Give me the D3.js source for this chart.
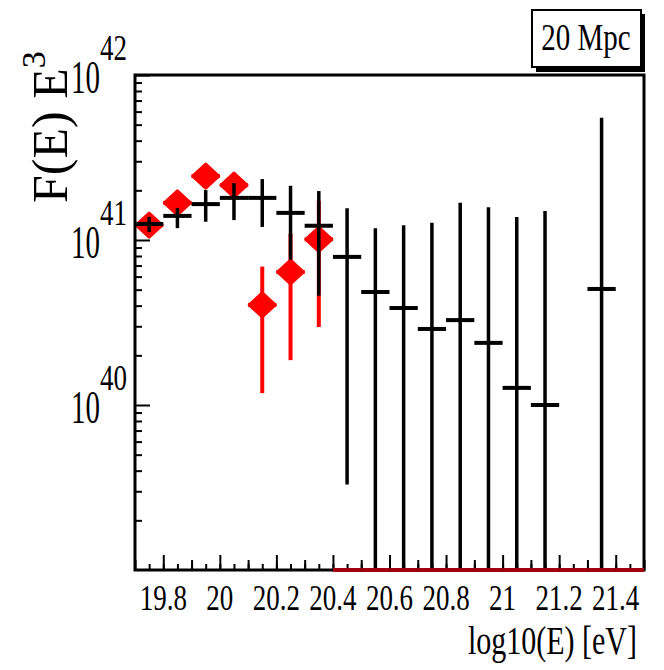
<!DOCTYPE html>
<html>
<head>
<meta charset="utf-8">
<script src="https://cdn.jsdelivr.net/npm/d3@7"></script>
<style>
  body { margin: 0; background: #fff; }
  svg { display: block; }
  text { font-family: "Liberation Serif", "DejaVu Serif", serif; fill: #000; }
</style>
</head>
<body>
<div id="graph"></div>
<script>
// bins in log10(E), width 0.1
const binCenters = [19.75, 19.85, 19.95, 20.05, 20.15, 20.25, 20.35, 20.45, 20.55,
                    20.65, 20.75, 20.85, 20.95, 21.05, 21.15, 21.25, 21.35, 21.45];

// black series (null = empty bin)
const blackValues = [1.25e41, 1.40e41, 1.65e41, 1.80e41, 1.80e41, 1.46e41, 1.22e41, 7.9e40, 4.84e40,
                     3.87e40, 2.89e40, 3.27e40, 2.38e40, 1.27e40, 1.0e40, null, 5.05e40, null];
const blackLow    = [1.12e41, 1.18e41, 1.29e41, 1.32e41, 1.20e41, 7.6e40, 4.6e40, 3.3e39, 0,
                     0, 0, 0, 0, 0, 0, null, 0, null];
const blackHigh   = [1.38e41, 1.56e41, 2.01e41, 2.21e41, 2.34e41, 2.13e41, 1.98e41, 1.56e41, 1.18e41,
                     1.23e41, 1.27e41, 1.68e41, 1.58e41, 1.38e41, 1.50e41, null, 5.5e41, null];

// red series (symmetric errors, zero beyond 20.4)
const redValues = [1.23e41, 1.68e41, 2.44e41, 2.15e41, 4.04e40, 6.4e40, 1.01e41, 0, 0,
                   0, 0, 0, 0, 0, 0, 0, 0, 0];
const redErrors = [1.2e40, 1.6e40, 2.4e40, 2.6e40, 2.86e40, 4.53e40, 7.13e40, 0, 0,
                   0, 0, 0, 0, 0, 0, 0, 0, 0];

const xTickValues = [19.8, 20, 20.2, 20.4, 20.6, 20.8, 21, 21.2, 21.4];
const xTickLabels = ["19.8", "20", "20.2", "20.4", "20.6", "20.8", "21", "21.2", "21.4"];
const yTickExponents = [40, 41, 42];

const binWidth = 0.1;
const margin = { top: 75, right: 20, bottom: 100, left: 135 };
const W = 664, H = 670;
const width = W - margin.left - margin.right;
const height = H - margin.top - margin.bottom;

const svg = d3.select("#graph").append("svg")
    .attr("width", W)
    .attr("height", H);

const x = d3.scaleLinear().domain([19.7, 21.5]).range([margin.left, margin.left + width]);
const y = d3.scaleLog().domain([1e39, 1e42]).range([margin.top + height, margin.top]);
const yc = v => y(Math.max(v, 1e39));

// stretched text helper (the source picture is squashed horizontally)
function label(g, txt, px, py, size, sy, anchor) {
    return g.append("text")
        .attr("transform", `translate(${px},${py}) scale(1,${sy})`)
        .attr("font-size", size)
        .attr("text-anchor", anchor)
        .text(txt);
}

// ticks (inside the frame)
const xMinor = d3.range(19.75, 21.5, 0.05).map(v => +v.toFixed(2));
const xMid = d3.range(19.7, 21.5, 0.2).map(v => +v.toFixed(2));
svg.append("g").attr("transform", `translate(0,${margin.top + height})`)
    .call(d3.axisTop(x).tickValues(xMinor).tickSize(6).tickFormat(""));
svg.append("g").attr("transform", `translate(0,${margin.top + height})`)
    .call(d3.axisTop(x).tickValues(xMid).tickSize(10).tickFormat(""));
svg.append("g").attr("transform", `translate(0,${margin.top + height})`)
    .call(d3.axisTop(x).tickValues(xTickValues).tickSize(15).tickFormat(""));

const yMinor = [];
for (let e = 39; e < 42; e++) for (let m = 2; m <= 9; m++) yMinor.push(m * Math.pow(10, e));
svg.append("g").attr("transform", `translate(${margin.left},0)`)
    .call(d3.axisRight(y).tickValues(yMinor).tickSize(7).tickFormat(""));
svg.append("g").attr("transform", `translate(${margin.left},0)`)
    .call(d3.axisRight(y).tickValues(yTickExponents.map(e => Math.pow(10, e))).tickSize(15).tickFormat(""));

svg.selectAll(".domain").remove();
svg.selectAll(".tick line").attr("stroke", "#000").attr("stroke-width", 2);

// tick labels
const labels = svg.append("g");
xTickValues.forEach((v, i) => label(labels, xTickLabels[i], x(v), 610, 27, 1.3, "middle"));
yTickExponents.forEach(e => {
    const yy = y(Math.pow(10, e));
    label(labels, "10", 100, yy + 18, 29, 1.6, "end");
    label(labels, String(e), 100, yy - 15, 27, 1.35, "start");
});

// axis titles
label(labels, "log10(E) [eV]", 637, 654, 30, 1.3, "end");
const yTitle = labels.append("text")
    .attr("transform", "translate(67,203) rotate(-90)")
    .attr("font-size", 50);
yTitle.append("tspan").text("F(E) E");
yTitle.append("tspan").attr("font-size", 34).attr("dy", -22).text("3");

// red series
const red = "#f00";
const redG = svg.append("g");
binCenters.forEach((c, i) => {
    const v = redValues[i], e = redErrors[i];
    redG.append("line")
        .attr("x1", x(c - binWidth / 2)).attr("x2", x(c + binWidth / 2))
        .attr("y1", yc(v)).attr("y2", yc(v))
        .attr("stroke", red).attr("stroke-width", 4);
    if (v > 0) {
        redG.append("line")
            .attr("x1", x(c)).attr("x2", x(c))
            .attr("y1", yc(v - e)).attr("y2", yc(v + e))
            .attr("stroke", red).attr("stroke-width", 4);
        redG.append("path")
            .attr("transform", `translate(${x(c)},${y(v)})`)
            .attr("d", "M0,-12L13,0L0,12L-13,0Z")
            .attr("fill", red).attr("stroke", red)
            .attr("stroke-width", 3).attr("stroke-linejoin", "round");
    }
});

// black series
const blackG = svg.append("g");
binCenters.forEach((c, i) => {
    const v = blackValues[i];
    if (v === null) return;
    blackG.append("line")
        .attr("x1", x(c)).attr("x2", x(c))
        .attr("y1", yc(blackLow[i])).attr("y2", yc(blackHigh[i]))
        .attr("stroke", "#000").attr("stroke-width", 3.5);
    blackG.append("line")
        .attr("x1", x(c - binWidth / 2)).attr("x2", x(c + binWidth / 2))
        .attr("y1", y(v)).attr("y2", y(v))
        .attr("stroke", "#000").attr("stroke-width", 4);
});

// frame
svg.append("rect")
    .attr("x", margin.left).attr("y", margin.top)
    .attr("width", width).attr("height", height)
    .attr("fill", "none").attr("stroke", "#000").attr("stroke-width", 3);

// redraw the zero-valued red bars over the bottom frame line
binCenters.forEach((c, i) => {
    if (redValues[i] > 0) return;
    svg.append("line")
        .attr("x1", x(c - binWidth / 2)).attr("x2", x(c + binWidth / 2))
        .attr("y1", yc(0)).attr("y2", yc(0))
        .attr("stroke", "#a00010").attr("stroke-width", 4);
});

// "20 Mpc" pave with shadow
const pave = svg.append("g");
pave.append("rect").attr("x", 536).attr("y", 14).attr("width", 109).attr("height", 58).attr("fill", "#000");
pave.append("rect").attr("x", 532).attr("y", 10).attr("width", 109).attr("height", 57)
    .attr("fill", "#fff").attr("stroke", "#000").attr("stroke-width", 2);
label(pave, "20 Mpc", 586, 50, 29, 1.3, "middle");
</script>
</body>
</html>
